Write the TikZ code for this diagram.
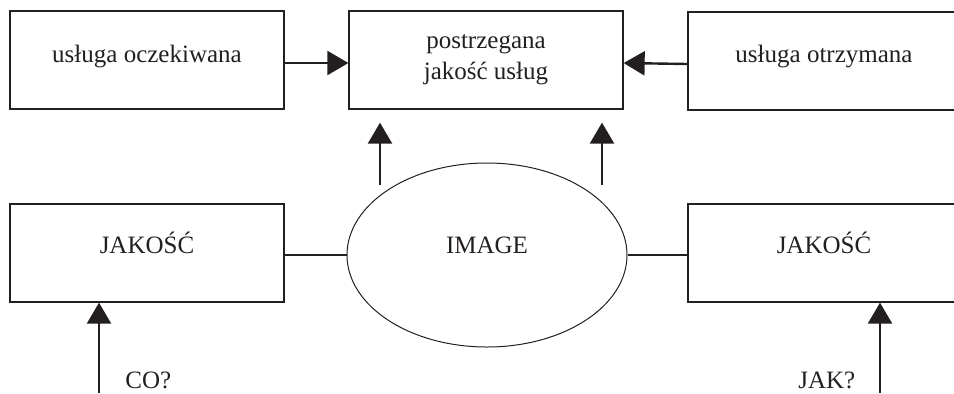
\documentclass[tikz,border=0pt]{standalone}
\usepackage{fontspec}
\setmainfont{Liberation Serif}
\usetikzlibrary{shapes.geometric,arrows.meta}
\definecolor{ink}{RGB}{35,31,32}
\begin{document}
\begin{tikzpicture}[x=0.5pt,y=-0.5pt,
  font=\fontsize{12.5}{15.5}\selectfont,
  every node/.style={text=ink},
  box/.style={draw=ink,line width=0.65pt,minimum width=137pt,minimum height=49pt,inner sep=0pt,align=center},
  oval/.style={draw=ink,line width=0.5pt,ellipse,minimum width=140pt,minimum height=92pt,inner sep=0pt},
  arr/.style={draw=ink,line width=1.2pt,-{Triangle[length=10.5pt,width=12pt]}},
  link/.style={draw=ink,line width=1pt},
  caption/.style={anchor=base west,inner sep=0pt}]
\useasboundingbox (0,0) rectangle (954,393);

% top row
\node[box,text height=2pt,text depth=0pt] (o) at (147,60) {usługa oczekiwana};
\node[box] (p) at (486,60) {postrzegana\\jakość usług};
\node[box,minimum width=136pt,text height=1pt,text depth=0pt] (r) at (824,61) {usługa otrzymana};

% bottom row
\node[box,text height=0pt,text depth=0pt] (jl) at (147,253) {JAKOŚĆ};
\node[oval,text height=0pt,text depth=2pt] (img) at (487,255) {IMAGE};
\node[box,minimum width=136pt,text height=0pt,text depth=0pt] (jr) at (824,253) {JAKOŚĆ};

% arrows into the perceived quality box
\draw[arr] ([yshift=-1.5pt]o.east) -- ([yshift=-1.5pt]p.west);
\draw[arr] ([yshift=-1.5pt]r.west) -- ([yshift=-1.5pt]p.east);
\coordinate (u1) at (380,185);
\coordinate (u2) at (602,185);
\draw[arr,shorten >=6.5pt] (u1) -- (u1 |- p.south);
\draw[arr,shorten >=6.5pt] (u2) -- (u2 |- p.south);

% links between quality boxes and image
\draw[link] (img.west -| jl.east) -- (img.west);
\draw[link] (img.east) -- (img.east -| jr.west);

% questions from below
\coordinate (b1) at (99,393);
\coordinate (b2) at (880,393);
\draw[arr] (b1) -- (b1 |- jl.south);
\draw[arr] (b2) -- (b2 |- jr.south);
\node[caption] (co) at (125,388) {CO?};
\node[caption] (jak) at (798,388) {JAK?};
\end{tikzpicture}
\end{document}
